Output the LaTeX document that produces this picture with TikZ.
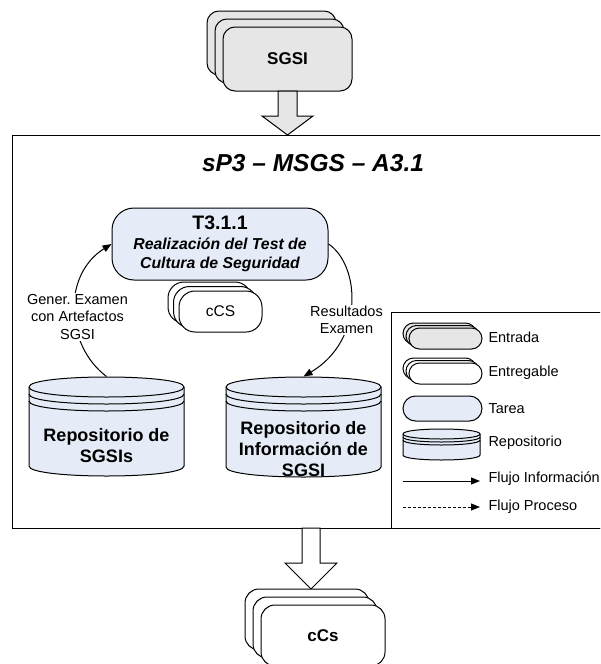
\documentclass[tikz,border=0pt]{standalone}
\usepackage{fontspec}
\setmainfont{Liberation Sans}
\usetikzlibrary{arrows.meta}
\definecolor{inputgray}{RGB}{230,230,230}
\definecolor{taskblue}{RGB}{229,235,247}
% cx, top, half width, bottom, ry, gap
\newcommand{\RepoCyl}[6]{%
  \filldraw[fill=taskblue] ({#1-#3},{#2+#5}) -- ({#1-#3},{#4-#5})
    .. controls ({#1-#3},{#4+0.3333*#5}) and ({#1+#3},{#4+0.3333*#5}) .. ({#1+#3},{#4-#5})
    -- ({#1+#3},{#2+#5})
    .. controls ({#1+#3},{#2-0.3333*#5}) and ({#1-#3},{#2-0.3333*#5}) .. cycle;
  \draw ({#1-#3},{#2+#5}) .. controls ({#1-#3},{#2+2.3333*#5}) and ({#1+#3},{#2+2.3333*#5}) .. ({#1+#3},{#2+#5});
  \draw ({#1-#3},{#2+#5+#6}) .. controls ({#1-#3},{#2+2.3333*#5+#6}) and ({#1+#3},{#2+2.3333*#5+#6}) .. ({#1+#3},{#2+#5+#6});
  \draw ({#1-#3},{#2+#5+2*#6}) .. controls ({#1-#3},{#2+2.3333*#5+2*#6}) and ({#1+#3},{#2+2.3333*#5+2*#6}) .. ({#1+#3},{#2+#5+2*#6});
}
\begin{document}
\begin{tikzpicture}[x=1pt,y=-1pt,line width=1pt,
  card/.style={draw, rounded corners=#1, inner sep=0pt},
  card/.default=12pt,
  task/.style={draw, fill=taskblue, rounded corners=22pt, inner sep=0pt, align=center},
  flow/.style={-{Triangle[length=9pt,width=7pt]}},
  lbl/.style={fill=white, inner sep=1pt, align=center, font=\fontsize{14.5}{17.5}\selectfont},
  repolbl/.style={align=center, inner sep=0pt, font=\fontsize{18}{21}\selectfont\bfseries},
  legtext/.style={anchor=west, inner sep=0pt, font=\fontsize{14.5}{17}\selectfont}]
\useasboundingbox (0,0) rectangle (600,664);
\clip (0,0) rectangle (600,664);

% main frame and legend box
\draw (12,135) rectangle (640,528);
\draw (391,312) rectangle (640,528);
\node[font=\fontsize{24.5}{28}\selectfont\bfseries\itshape] (title) at (313,163) {sP3 – MSGS – A3.1};

% SGSI input stack
\node[card, fill=inputgray, minimum width=129pt, minimum height=64pt] (sgsi3) at (271.5,43) {};
\node[card, fill=inputgray, minimum width=129pt, minimum height=64pt] (sgsi2) at (279.5,51) {};
\node[card, fill=inputgray, minimum width=129pt, minimum height=64pt, font=\fontsize{17}{20}\selectfont\bfseries] (sgsi) at (287.5,59) {SGSI};
\filldraw[fill=inputgray] (278,91) -- (278,116) -- (262,116) -- (287.5,135) -- (313,116) -- (297,116) -- (297,91) -- cycle;

% task
\node[task, minimum width=216pt, minimum height=72pt, font=\fontsize{15.8}{19}\selectfont\bfseries\itshape] (task) at (220,244)
  {{\fontsize{19.5}{21}\selectfont\upshape T3.1.1}\\[1pt] Realización del Test de\\ Cultura de Seguridad};

% cCS deliverable stack
\node[card=16pt, fill=white, minimum width=83pt, minimum height=41pt] (ccs3) at (209.5,302.5) {};
\node[card=16pt, fill=white, minimum width=83pt, minimum height=41pt] (ccs2) at (215,307) {};
\node[card=16pt, fill=white, minimum width=83pt, minimum height=41pt, font=\fontsize{15.5}{18}\selectfont] (ccs) at (220.5,311.5) {cCS};

% repositories
\RepoCyl{106.5}{377}{77.5}{476}{10}{7}
\node[minimum width=155pt, minimum height=99pt, inner sep=0pt] (rep1) at (106.5,426.5) {};
\node[repolbl] (rep1t) at (106.5,446) {Repositorio de\\SGSIs};
\RepoCyl{303.5}{377}{77.5}{477}{10}{7}
\node[minimum width=155pt, minimum height=100pt, inner sep=0pt] (rep2) at (303.5,427) {};
\node[repolbl] (rep2t) at (303.5,449) {Repositorio de\\Información de\\SGSI};

% flows
\draw[flow] (rep1.north) .. controls (65,345) and (62,275) .. (task.west);
\node[lbl] (l1) at (77.5,317) {Gener.\ Examen\\con Artefactos\\SGSI};
\draw[flow] (task.east) .. controls (360,265) and (365,340) .. (rep2.north);
\node[lbl] (l2) at (346.5,320) {Resultados\\Examen};

% output arrow and cCs stack
\filldraw[fill=white] (302,528) -- (302,563) -- (285,563) -- (311,589) -- (337,563) -- (320,563) -- (320,528) -- cycle;
\node[card=14pt, fill=white, minimum width=124pt, minimum height=61pt] (ccsout3) at (307,619.5) {};
\node[card=14pt, fill=white, minimum width=124pt, minimum height=61pt] (ccsout2) at (315,627.5) {};
\node[card=14pt, fill=white, minimum width=124pt, minimum height=61pt, font=\fontsize{17}{20}\selectfont\bfseries] (ccsout) at (323,635.5) {cCs};

% legend
\node[card=10.5pt, fill=inputgray, minimum width=73pt, minimum height=21pt] (le3) at (439.5,333.5) {};
\node[card=10.5pt, fill=inputgray, minimum width=73pt, minimum height=21pt] (le2) at (442.5,336) {};
\node[card=10.5pt, fill=inputgray, minimum width=73pt, minimum height=21pt] (le1) at (445.5,338.5) {};
\node[legtext] (let) at (488,337) {Entrada};
\node[card=10.5pt, fill=white, minimum width=73pt, minimum height=21pt] (lg3) at (439.5,368.5) {};
\node[card=10.5pt, fill=white, minimum width=73pt, minimum height=21pt] (lg2) at (442.5,371) {};
\node[card=10.5pt, fill=white, minimum width=73pt, minimum height=21pt] (lg1) at (445.5,373.5) {};
\node[legtext] (lgt) at (488,373) {Entregable};
\node[card=12.5pt, fill=taskblue, minimum width=79pt, minimum height=25pt] (lt) at (442.5,408.5) {};
\node[legtext] (ltt) at (488,409) {Tarea};
\RepoCyl{441.5}{429}{38.5}{460}{5}{3}
\node[legtext] (lrt) at (488,443) {Repositorio};
\coordinate (lfa) at (403,481);
\coordinate (lfb) at (480,481);
\draw[flow] (lfa) -- (lfb);
\node[legtext] (lft) at (488,479) {Flujo Información};
\coordinate (lpa) at (403,507);
\coordinate (lpb) at (480,507);
\draw[flow, dash pattern=on 3pt off 2pt] (lpa) -- (lpb);
\node[legtext] (lpt) at (488,507) {Flujo Proceso};
\end{tikzpicture}
\end{document}
